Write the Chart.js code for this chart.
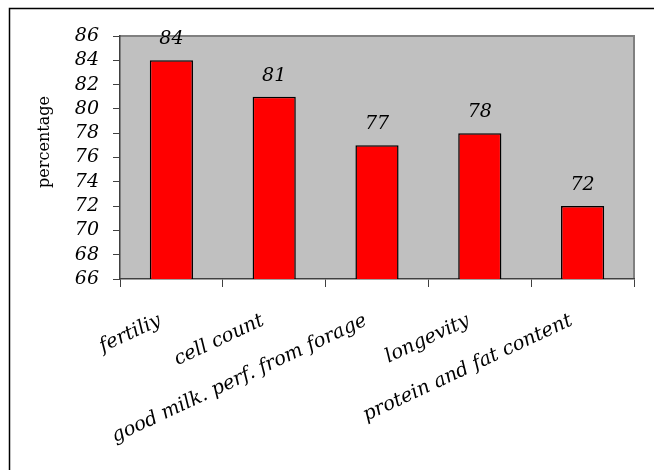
<!DOCTYPE html>
<html>
<head>
<meta charset="utf-8">
<script src="https://cdn.jsdelivr.net/npm/chart.js@4/dist/chart.umd.min.js"></script>
<style>
  html, body { margin: 0; padding: 0; background: #fff; }
  #wrap { width: 654px; height: 470px; }
</style>
</head>
<body>
<div id="wrap"><canvas id="traitChart" width="654" height="470"></canvas></div>
<script>
// data
const categories = ["fertiliy", "cell count", "good milk. perf. from forage", "longevity", "protein and fat content"];
const percentValues = [84, 81, 77, 78, 72];
const yMin = 66, yMax = 86, yStep = 2;
const yTitle = "percentage";

// grey plot box, outer frame, axis title and value labels
const chartDecor = {
    id: "chartDecor",
    beforeDraw(chart) {
        const { ctx, chartArea: a } = chart;
        ctx.save();
        ctx.fillStyle = "#fff";
        ctx.fillRect(0, 0, chart.width, chart.height);
        ctx.strokeStyle = "#000";
        ctx.lineWidth = 1.5;
        ctx.strokeRect(9.5, 8.5, chart.width + 10, chart.height + 10);
        ctx.fillStyle = "#c0c0c0";
        ctx.fillRect(a.left, a.top, a.right - a.left, a.bottom - a.top);
        ctx.strokeStyle = "#808080";
        ctx.lineWidth = 2;
        ctx.beginPath();
        ctx.moveTo(a.left, a.top);
        ctx.lineTo(a.right, a.top);
        ctx.lineTo(a.right, a.bottom);
        ctx.stroke();
        ctx.restore();
    },
    afterDatasetsDraw(chart) {
        const { ctx } = chart;
        ctx.save();
        ctx.fillStyle = "#000";
        ctx.font = "16px 'DejaVu Serif'";
        ctx.textAlign = "center";
        ctx.textBaseline = "middle";
        ctx.translate(45, 142);
        ctx.rotate(-Math.PI / 2);
        ctx.fillText(yTitle, 0, 0);
        ctx.restore();

        ctx.save();
        ctx.fillStyle = "#000";
        ctx.font = "italic 19px 'DejaVu Serif'";
        ctx.textAlign = "center";
        ctx.textBaseline = "alphabetic";
        chart.getDatasetMeta(0).data.forEach((bar, i) => {
            ctx.fillText(String(percentValues[i]), bar.x, bar.y - 16);
        });
        ctx.restore();
    }
};

const ctx = document.getElementById("traitChart").getContext("2d");
new Chart(ctx, {
    type: "bar",
    data: {
        labels: categories,
        datasets: [{
            data: percentValues,
            backgroundColor: "#ff0000",
            borderColor: "#000",
            borderWidth: 1.5,
            borderSkipped: false,
            barPercentage: 0.42,
            categoryPercentage: 1
        }]
    },
    options: {
        responsive: false,
        animation: false,
        layout: { padding: { left: 0, top: 36, right: 20, bottom: 0 } },
        plugins: { legend: { display: false }, tooltip: { enabled: false } },
        scales: {
            x: {
                offset: true,
                grid: { offset: true, drawOnChartArea: false, color: "#404040", tickLength: 8 },
                border: { color: "#404040", width: 1.5 },
                ticks: {
                    color: "#000",
                    font: { family: "'DejaVu Serif'", style: "italic", size: 19.5 },
                    maxRotation: 25, minRotation: 25,
                    padding: 17,
                    autoSkip: false,
                    // two trailing spaces nudge the rotated text left of the tick like the original
                    callback: (v, i) => categories[i] + "  "
                },
                afterFit(scale) { scale.height = 470 - 279; }
            },
            y: {
                min: yMin, max: yMax,
                grid: { drawOnChartArea: false, color: "#404040", tickLength: 7 },
                border: { color: "#404040", width: 1.5 },
                ticks: {
                    stepSize: yStep,
                    autoSkip: false,
                    color: "#000",
                    font: { family: "'DejaVu Serif'", style: "italic", size: 19 },
                    padding: 14
                },
                afterFit(scale) { scale.width = 120; }
            }
        }
    },
    plugins: [chartDecor]
});
</script>
</body>
</html>
